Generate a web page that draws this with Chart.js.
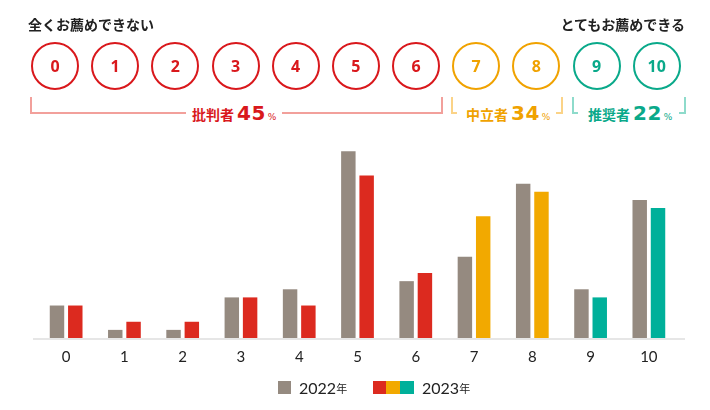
<!DOCTYPE html>
<html lang="ja">
<head>
<meta charset="utf-8">
<script src="https://cdn.jsdelivr.net/npm/chart.js@4/dist/chart.umd.min.js"></script>
<style>
  html, body { margin: 0; padding: 0; background: #fff; }
  #wrap { position: relative; width: 710px; height: 410px; overflow: hidden;
          font-family: "Noto Sans CJK JP", "Noto Sans", sans-serif; }
  #chart { position: absolute; left: 0; top: 0; }
  .end-label { position: absolute; top: 14px; font-size: 14px; font-weight: bold; color: #222; line-height: 20px; }
  .circle { position: absolute; top: 42px; width: 44px; height: 44px; border: 2px solid; border-radius: 50%;
            display: flex; align-items: center; justify-content: center;
            font-family: "Noto Sans", sans-serif; font-weight: bold; font-size: 16px; }
  .red { color: #d9181c; border-color: #d9181c; }
  .orange { color: #f0a200; border-color: #f0a200; }
  .teal { color: #0aa98a; border-color: #0aa98a; }
  .bracket { position: absolute; top: 97px; height: 15px; border: 2px solid; border-top: none; }
  .label { position: absolute; top: 101px; height: 24px; background: #fff; display: flex; align-items: baseline;
           font-weight: bold; white-space: nowrap; }
  .label .name { font-size: 14px; }
  .label .num { font-family: "DejaVu Sans", sans-serif; font-size: 20px; margin-left: 3px; letter-spacing: 0.5px; }
  .label .pct { font-family: "DejaVu Sans", sans-serif; font-size: 9px; margin-left: 2px; font-weight: normal; }
  .legend { position: absolute; top: 378px; display: flex; align-items: center; font-family: "Lato", sans-serif;
            font-size: 16px; color: #222; }
  .legend .yr { font-family: "Noto Sans CJK JP", sans-serif; font-size: 11px; }
  .sw { width: 13px; height: 13px; display: inline-block; margin-right: 8px; }
</style>
</head>
<body>
<div id="wrap">
  <canvas id="chart" width="710" height="410"></canvas>
  <div id="header"></div>
  <div class="end-label" style="left:28px;">全くお薦めできない</div>
  <div class="end-label" style="right:25px;">とてもお薦めできる</div>

  <div class="bracket" style="left:30px; width:409px; border-color:#f2a09b;"></div>
  <div class="label" style="left:186px; padding:0 6px; color:#d9181c;">
    <span class="name">批判者</span><span class="num">45</span><span class="pct">%</span>
  </div>

  <div class="bracket" style="left:451px; width:108px; border-color:#fbd387;"></div>
  <div class="label" style="left:457px; padding:0 6px 0 9px; color:#f0a200;">
    <span class="name">中立者</span><span class="num">34</span><span class="pct">%</span>
  </div>

  <div class="bracket" style="left:572px; width:110px; border-color:#8edbcb;"></div>
  <div class="label" style="left:578px; padding:0 7px 0 10px; color:#0aa98a;">
    <span class="name">推奨者</span><span class="num">22</span><span class="pct">%</span>
  </div>

  <div class="legend" style="left:278px;">
    <span class="sw" style="background:#958a80;"></span><span>2022</span><span class="yr">年</span>
  </div>
  <div class="legend" style="left:373px;">
    <span class="sw" style="background:#dc2a1f; margin-right:0;"></span><span class="sw" style="background:#f2a900; margin-right:0; width:14px;"></span><span class="sw" style="background:#00b09a; width:14px;"></span><span>2023</span><span class="yr">年</span>
  </div>
</div>

<script>
// scores 0..10, share of respondents (%)
const categories = ['0', '1', '2', '3', '4', '5', '6', '7', '8', '9', '10'];
const values2022 = [4, 1, 1, 5, 6, 23, 7, 10, 19, 6, 17];
const values2023 = [4, 2, 2, 5, 4, 20, 8, 15, 18, 5, 16];
const yMax = 25;

const GRAY = '#958a80';
const RED = '#dc2a1f';
const ORANGE = '#f2a900';
const TEAL = '#00b09a';

function groupClass(i) {
    if (i <= 6) return 'red';
    if (i <= 8) return 'orange';
    return 'teal';
}

// score circles in the header
const header = document.getElementById('header');
categories.forEach((c, i) => {
    const el = document.createElement('div');
    el.className = 'circle ' + groupClass(i);
    el.style.left = (31 + i * 60.17) + 'px';
    el.textContent = c;
    header.appendChild(el);
});

const colors2023 = categories.map((c, i) => {
    const g = groupClass(i);
    return g === 'red' ? RED : g === 'orange' ? ORANGE : TEAL;
});

const baselinePlugin = {
    id: 'baseline',
    beforeDatasetsDraw(chart) {
        const { ctx, chartArea } = chart;
        const y = chart.scales.y.getPixelForValue(0);
        ctx.save();
        ctx.strokeStyle = '#e6e6e6';
        ctx.lineWidth = 2;
        ctx.beginPath();
        ctx.moveTo(chartArea.left - 4, y + 1);
        ctx.lineTo(chartArea.right + 7, y + 1);
        ctx.stroke();
        ctx.restore();
    }
};

new Chart(document.getElementById('chart').getContext('2d'), {
    type: 'bar',
    data: {
        labels: categories,
        datasets: [
            {
                label: '2022年',
                data: values2022,
                backgroundColor: GRAY,
                borderWidth: 0,
                categoryPercentage: 0.628,
                barPercentage: 0.79
            },
            {
                label: '2023年',
                data: values2023,
                backgroundColor: colors2023,
                borderWidth: 0,
                categoryPercentage: 0.628,
                barPercentage: 0.79
            }
        ]
    },
    options: {
        responsive: false,
        animation: false,
        devicePixelRatio: 1,
        layout: {
            padding: { left: 37, right: 32, top: 135, bottom: 32 }
        },
        plugins: {
            legend: { display: false },
            tooltip: { enabled: false }
        },
        scales: {
            x: {
                grid: { display: false },
                border: { display: false },
                ticks: {
                    color: '#222',
                    padding: 2,
                    font: { family: "'Lato', sans-serif", size: 15 }
                },
                afterFit(scale) { scale.height = 40; }
            },
            y: {
                display: false,
                min: 0,
                max: yMax
            }
        }
    },
    plugins: [baselinePlugin]
});
</script>
</body>
</html>
